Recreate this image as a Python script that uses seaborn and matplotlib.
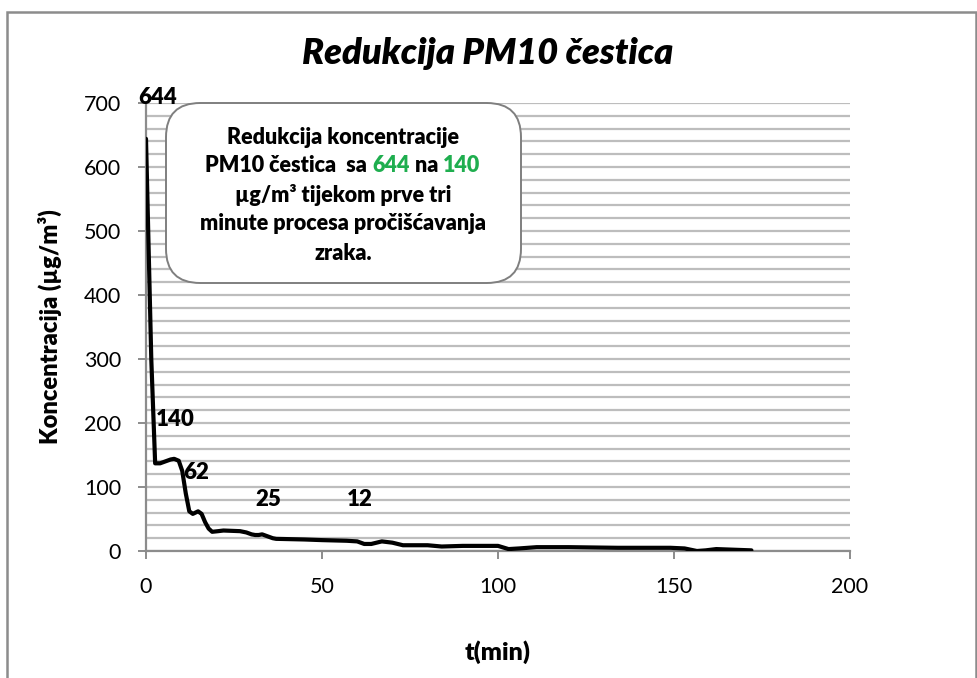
import matplotlib
matplotlib.use("Agg")
import matplotlib.pyplot as plt
import seaborn as sns
import pandas as pd
from matplotlib.patches import FancyBboxPatch, Rectangle
from matplotlib.ticker import MultipleLocator

# ---- data ----
time_min = [0, 1.5, 2.6, 4, 5, 7, 8, 9.3, 10.3, 11.3, 12.3, 13.3, 14.8, 15.8, 16.8, 17.8,
            18.8, 20.5, 22, 26.7, 28.5, 30, 31, 32, 33, 34.5, 36, 37, 45, 50, 57, 60,
            62, 64, 67, 70, 73, 80, 84, 90, 100, 103, 106, 111, 120, 134, 149, 153,
            156.5, 159, 162, 172]
conc = [644, 300, 137, 137, 139, 143, 144, 141, 125, 90, 62, 58, 62, 58, 45, 35,
        30, 31, 32, 31, 29, 26, 25, 25, 26, 23, 20, 19, 18, 17, 16, 15,
        11, 11, 15, 13, 9, 9, 7, 8, 8, 3, 4, 6, 6, 5, 5, 4,
        0, 1, 3, 1]
label_vals = ["644", "140", "62", "25", "12"]
label_t = [3.4, 8.2, 14.2, 34.8, 60.8]
label_y = [709, 206, 123, 80, 80]

title = "Redukcija PM10 čestica"
xlabel = "t(min)"
ylabel = "Koncentracija (µg/m³)"

df = pd.DataFrame({"t": time_min, "c": conc})

sns.set_theme(style="white")
FONT = ["Lato", "DejaVu Sans"]
plt.rcParams["font.family"] = FONT
plt.rcParams["text.color"] = "black"
plt.rcParams["axes.labelcolor"] = "black"
BOLD = "heavy"

W, H = 978, 678
fig = plt.figure(figsize=(W / 100, H / 100), dpi=100)
ax = fig.add_axes([146 / W, 1 - 551 / H, (850 - 146) / W, (551 - 103) / H])

# outer chart border
fig.patches.append(Rectangle((7 / W, -0.05), (976 - 7) / W, 1.05 - 12 / H,
                             transform=fig.transFigure, fill=False,
                             edgecolor="#8c8c8c", linewidth=1.8))

sns.lineplot(data=df, x="t", y="c", ax=ax, color="black", linewidth=3, sort=False,
             solid_joinstyle="round", solid_capstyle="round", zorder=5)

ax.set_xlim(0, 200)
ax.set_ylim(0, 700)
ax.xaxis.set_major_locator(MultipleLocator(50))
ax.yaxis.set_major_locator(MultipleLocator(100))
ax.yaxis.set_minor_locator(MultipleLocator(20))
ax.grid(True, which="both", axis="y", color="#bdbdbd", linewidth=1.6)
ax.grid(False, axis="x")
for s in ["top", "right"]:
    ax.spines[s].set_visible(False)
for s in ["left", "bottom"]:
    ax.spines[s].set_color("#8c8c8c")
    ax.spines[s].set_linewidth(1.6)
ax.tick_params(axis="both", which="major", direction="out", length=6, width=1.4,
               color="#8c8c8c", labelsize=15.5, labelcolor="black")
ax.tick_params(axis="x", which="major", pad=13)
ax.tick_params(axis="y", which="major", pad=12)
ax.tick_params(axis="y", which="minor", length=0)
ax.tick_params(axis="x", which="major", bottom=True)
ax.tick_params(axis="y", which="major", left=True)
ax.set_xlabel(xlabel, fontsize=18, fontweight=BOLD, labelpad=31, color="black")
ax.set_ylabel(ylabel, fontsize=17, fontweight=BOLD, labelpad=16, color="black")

fig.text(488 / W, 1 - 53 / H, title, ha="center", va="center", fontsize=26,
         fontweight=BOLD, fontstyle="italic", color="black")

for t, y, s in zip(label_t, label_y, label_vals):
    ax.text(t, y, s, ha="center", va="center", fontsize=16,
            fontweight=BOLD, zorder=6, color="black")

# callout box
box = FancyBboxPatch((166 / W, 1 - 283 / H), (521 - 166) / W, (283 - 103) / H,
                     boxstyle="round,pad=0,rounding_size=0.035", transform=fig.transFigure,
                     facecolor="white", edgecolor="#7f7f7f", linewidth=1.4, zorder=10,
                     mutation_aspect=W / H)
fig.patches.append(box)

cx = 343 / W
lines_y = [137, 166, 195, 224, 253]
green = "#1fae4f"
kw = dict(fontsize=15.5, fontweight=BOLD, va="center", zorder=11)
fig.text(cx, 1 - lines_y[0] / H, "Redukcija koncentracije", ha="center", color="black", **kw)
# line 2 with green numbers
seg = [("PM10 čestica  sa ", "black"), ("644", green), (" na ", "black"), ("140", green)]
fig.canvas.draw()
r = fig.canvas.get_renderer()
widths = []
for s, c in seg:
    t_ = fig.text(0, 0, s, **kw)
    widths.append(t_.get_window_extent(r).width)
    t_.remove()
total = sum(widths)
x0 = 343 - total / 2
for (s, c), w in zip(seg, widths):
    fig.text(x0 / W, 1 - lines_y[1] / H, s, ha="left", color=c, **kw)
    x0 += w
fig.text(cx, 1 - lines_y[2] / H, "µg/m³ tijekom prve tri", ha="center", color="black", **kw)
fig.text(cx, 1 - lines_y[3] / H, "minute procesa pročišćavanja", ha="center", color="black", **kw)
fig.text(cx, 1 - lines_y[4] / H, "zraka.", ha="center", color="black", **kw)

fig.savefig("out.png", dpi=100)
